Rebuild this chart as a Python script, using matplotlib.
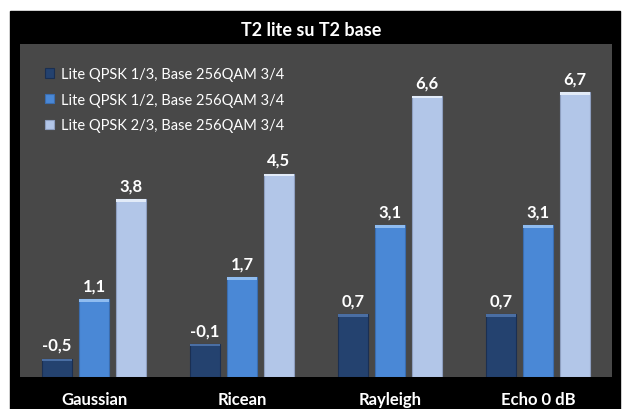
import matplotlib
matplotlib.use('Agg')
import matplotlib.pyplot as plt
from matplotlib.patches import Rectangle
import numpy as np

categories = ['Gaussian', 'Ricean', 'Rayleigh', 'Echo 0 dB']
series_names = ['Lite QPSK 1/3, Base 256QAM 3/4',
                'Lite QPSK 1/2, Base 256QAM 3/4',
                'Lite QPSK 2/3, Base 256QAM 3/4']
qpsk_13 = [-0.5, -0.1, 0.7, 0.7]
qpsk_12 = [1.1, 1.7, 3.1, 3.1]
qpsk_23 = [3.8, 4.5, 6.6, 6.7]

colors = ['#24426f', '#4a88d6', '#b2c6e8']
tops = ['#4a6ea3', '#8fbcf0', '#e2ebf8']
edges = ['#1a2f52', '#3a6db0', '#8e9fc0']

plt.rcParams['font.family'] = ['Lato', 'DejaVu Sans']

fig = plt.figure(figsize=(6.22, 4.10), dpi=100, facecolor='white')
fig.patches.append(Rectangle((10 / 622, 0), 610 / 622, 398 / 410,
                             transform=fig.transFigure, color='black', zorder=-10))
fig.text(311 / 622, 1 - 30 / 410, 'T2 lite su T2 base', color='white',
         fontsize=13, fontweight='bold', ha='center', va='center')

ax = fig.add_axes([20 / 622, 1 - 378 / 410, 592 / 622, 333 / 410])
ax.set_facecolor('#484848')

x = np.arange(len(categories))
base = -1
width = 0.2
step = 0.25
for i, (vals, name) in enumerate(zip([qpsk_13, qpsk_12, qpsk_23], series_names)):
    pos = x + (i - 1) * step
    heights = [v - base for v in vals]
    ax.bar(pos, heights, width, bottom=base, color=colors[i], edgecolor=edges[i],
           linewidth=0.8, label=name, zorder=2)
    # light strip on the top face
    ax.bar(pos, [0.07] * len(vals), width, bottom=[v - 0.07 for v in vals],
           color=tops[i], linewidth=0, zorder=3)
    for p, v in zip(pos, vals):
        ax.annotate(f'{v:.1f}'.replace('.', ','), xy=(p, v), xytext=(0, 4),
                    textcoords='offset points', ha='center', va='bottom',
                    color='white', fontsize=12, fontweight='bold')

ax.set_xlim(-0.5, len(categories) - 0.5)
ax.set_ylim(-1, 8)
ax.set_yticks([])
ax.set_xticks(x)
ax.set_xticklabels(categories, color='white', fontsize=12, fontweight='bold')
ax.tick_params(axis='x', length=0, pad=10)
for s in ax.spines.values():
    s.set_visible(False)

leg = ax.legend(loc='upper left', bbox_to_anchor=(0.02, 0.97), frameon=False,
                fontsize=10.5, handlelength=0.6, handleheight=0.6, handletextpad=0.5,
                labelspacing=0.8, labelcolor='white')

fig.savefig('out.png', dpi=100, facecolor=fig.get_facecolor())
